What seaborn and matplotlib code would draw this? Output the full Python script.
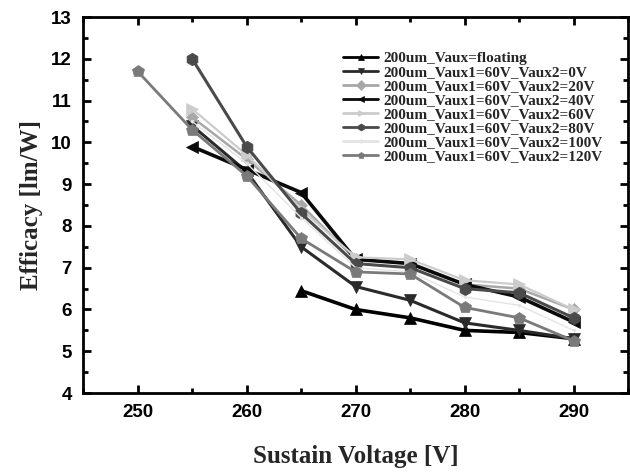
import numpy as np
import pandas as pd
import matplotlib
matplotlib.use("Agg")
import matplotlib.pyplot as plt
import seaborn as sns
from matplotlib.ticker import MultipleLocator

# ---- data ----
voltage = [250, 255, 260, 265, 270, 275, 280, 285, 290]
labels = [
    "200um_Vaux=floating",
    "200um_Vaux1=60V_Vaux2=0V",
    "200um_Vaux1=60V_Vaux2=20V",
    "200um_Vaux1=60V_Vaux2=40V",
    "200um_Vaux1=60V_Vaux2=60V",
    "200um_Vaux1=60V_Vaux2=80V",
    "200um_Vaux1=60V_Vaux2=100V",
    "200um_Vaux1=60V_Vaux2=120V",
]
nan = np.nan
eff_floating = [nan, nan, nan, 6.45, 6.0, 5.8, 5.5, 5.45, 5.3]
eff_0V = [nan, 10.4, 9.3, 7.5, 6.55, 6.22, 5.68, 5.5, 5.3]
eff_20V = [nan, 10.6, 9.6, 8.5, 7.2, 7.1, 6.6, 6.5, 6.0]
eff_40V = [nan, 9.9, 9.35, 8.8, 7.2, 7.1, 6.6, 6.3, 5.7]
eff_60V = [nan, 10.8, 9.7, 8.4, 7.25, 7.2, 6.7, 6.6, 6.0]
eff_80V = [nan, 12.0, 9.9, 8.3, 7.1, 7.0, 6.5, 6.4, 5.8]
eff_100V = [nan, 10.5, 9.5, 8.2, 7.0, 6.9, 6.3, 6.1, 5.5]
eff_120V = [11.7, 10.3, 9.2, 7.7, 6.9, 6.85, 6.05, 5.8, 5.25]
series = [eff_floating, eff_0V, eff_20V, eff_40V, eff_60V, eff_80V, eff_100V, eff_120V]

colors = ["#000000", "#2a2a2a", "#a8a8a8", "#0a0a0a", "#cccccc", "#4a4a4a", "#e4e4e4", "#7a7a7a"]
markers = ["^", "v", "D", "<", ">", "h", ".", "p"]
msizes = [9, 9, 6, 9, 9, 9, 4, 9]
lwidths = [2.6, 2.2, 1.8, 2.6, 1.6, 2.2, 1.0, 2.0]

rows = []
for lab, vals in zip(labels, series):
    for v, e in zip(voltage, vals):
        rows.append({"Voltage": v, "Efficacy": e, "Series": lab})
df = pd.DataFrame(rows).dropna()

sns.set_theme(style="ticks")
plt.rcParams["font.family"] = ["DejaVu Sans"]

fig = plt.figure(figsize=(6.3, 4.73), dpi=100)
ax = fig.add_axes([0.132, 0.169, 0.997 - 0.132, 0.964 - 0.169])

for lab, c, m, ms, lw in zip(labels, colors, markers, msizes, lwidths):
    sub = df[df["Series"] == lab]
    sns.lineplot(data=sub, x="Voltage", y="Efficacy", ax=ax, color=c, marker=m,
                 markersize=ms, linewidth=lw, markeredgecolor=c, markeredgewidth=0.5,
                 label=lab, sort=True, errorbar=None)

ax.set_xlim(245, 295)
ax.set_ylim(4, 13)
ax.xaxis.set_major_locator(MultipleLocator(10))
ax.xaxis.set_minor_locator(MultipleLocator(5))
ax.yaxis.set_major_locator(MultipleLocator(1))
ax.yaxis.set_minor_locator(MultipleLocator(0.5))
ax.tick_params(which="both", direction="in", top=True, right=True, width=2, colors="black")
ax.tick_params(which="major", length=6, labelsize=13.5, pad=8)
ax.tick_params(which="minor", length=3.5)
for t in ax.get_xticklabels() + ax.get_yticklabels():
    t.set_fontweight("bold")
    t.set_family(["Liberation Sans", "DejaVu Sans"])
for sp in ax.spines.values():
    sp.set_linewidth(2)
    sp.set_color("black")

ax.set_xlabel("Sustain Voltage [V]", fontsize=18, fontweight="bold",
              family=["Liberation Serif"], labelpad=17)
ax.set_ylabel("Efficacy [lm/W]", fontsize=18, fontweight="bold",
              family=["Liberation Serif"], labelpad=6)

leg = ax.legend(loc="upper left", bbox_to_anchor=(0.466, 0.925), frameon=False,
                prop={"family": "Liberation Serif", "weight": "bold", "size": 11},
                handlelength=2.3, handletextpad=0.3, labelspacing=0.02, borderaxespad=0)
for h in leg.legend_handles:
    h.set_markersize(5)
    h.set_linewidth(2)

fig.savefig("out.png", dpi=100)
